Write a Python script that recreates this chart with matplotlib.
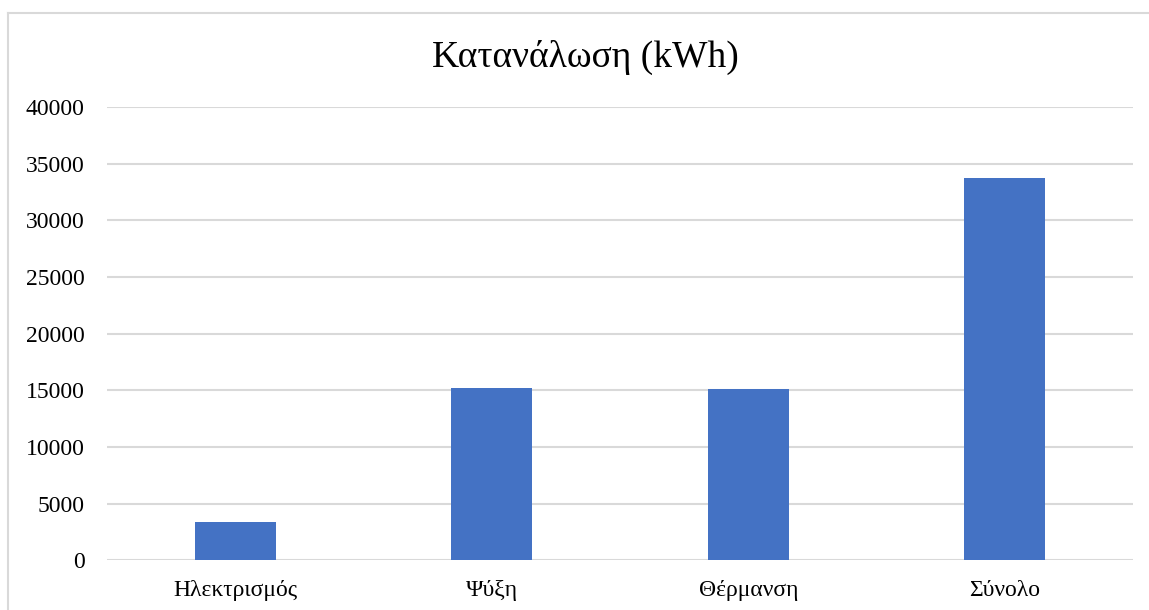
import matplotlib.pyplot as plt
from matplotlib.lines import Line2D

# energy consumption per use (kWh)
categories = ['Ηλεκτρισμός', 'Ψύξη', 'Θέρμανση', 'Σύνολο']
consumption = [3360, 15230, 15110, 33700]
yticks = [0, 5000, 10000, 15000, 20000, 25000, 30000, 35000, 40000]

plt.rcParams['font.family'] = ['Liberation Serif', 'DejaVu Serif']

fig = plt.figure(figsize=(11.49, 6.10), dpi=100)
ax = fig.add_axes([0.0931, 0.0815, 0.8930, 0.7431])

# chart frame (top and left edges only)
fx, fy = 7.5 / 1149, 1 - 13 / 610
fig.lines.append(Line2D([fx, 1], [fy, fy], transform=fig.transFigure,
                        color='#d9d9d9', linewidth=1.5))
fig.lines.append(Line2D([fx, fx], [0, fy], transform=fig.transFigure,
                        color='#d9d9d9', linewidth=1.5))

x = range(len(categories))
ax.bar(x, consumption, width=0.315, color='#4472c4', zorder=3)

ax.set_xlim(-0.5, 3.5)
ax.set_ylim(0, 40000)
ax.set_yticks(yticks)
ax.set_yticklabels([str(v) for v in yticks])
ax.set_xticks(list(x))
ax.set_xticklabels(categories)
ax.grid(axis='y', color='#d9d9d9', linewidth=1.5, zorder=0)
ax.tick_params(axis='y', length=0, pad=16, labelsize=17)
ax.tick_params(axis='x', length=0, pad=14, labelsize=17)
for s in ax.spines.values():
    s.set_visible(False)

fig.text(585 / 1149, 1 - 57 / 610, 'Κατανάλωση (kWh)', ha='center', va='center', fontsize=27)

fig.savefig('out.png', dpi=100)
